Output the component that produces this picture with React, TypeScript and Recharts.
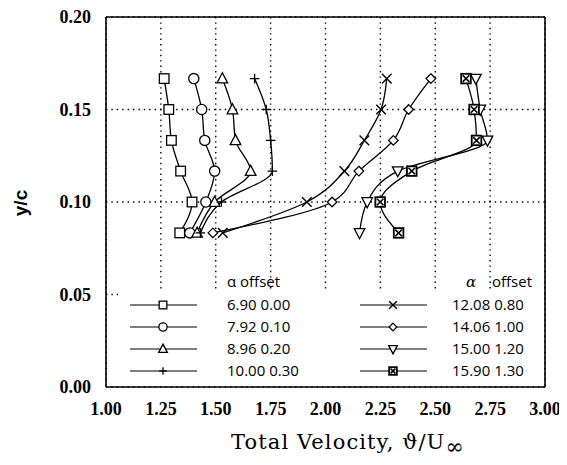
import React from 'react'
import { LineChart, Line, XAxis, YAxis, CartesianGrid, ReferenceLine } from 'recharts'

// y/c stations (same for every run)
const yc = [0.0833, 0.1, 0.1167, 0.1333, 0.15, 0.1667]

// total velocity at each station, one list per angle of attack
const v690 = [1.336, 1.392, 1.34, 1.298, 1.286, 1.265]
const v792 = [1.382, 1.455, 1.495, 1.45, 1.436, 1.4]
const v896 = [1.415, 1.495, 1.659, 1.59, 1.576, 1.53]
const v1000 = [1.43, 1.526, 1.758, 1.75, 1.73, 1.677]
const v1208 = [1.532, 1.915, 2.086, 2.177, 2.253, 2.279]
const v1406 = [1.487, 2.03, 2.152, 2.309, 2.379, 2.48]
const v1500 = [2.155, 2.19, 2.329, 2.738, 2.705, 2.685]
const v1590 = [2.333, 2.249, 2.393, 2.688, 2.677, 2.64]

const alphas = ['6.90', '7.92', '8.96', '10.00', '12.08', '14.06', '15.00', '15.90']
const offsets = ['0.00', '0.10', '0.20', '0.30', '0.80', '1.00', '1.20', '1.30']
const shapes = ['square', 'circle', 'triUp', 'plus', 'cross', 'diamond', 'triDown', 'boxX']
const seriesVals = [v690, v792, v896, v1000, v1208, v1406, v1500, v1590]

const xTicks = [1, 1.25, 1.5, 1.75, 2, 2.25, 2.5, 2.75, 3]
const yTicks = [0, 0.05, 0.1, 0.15, 0.2]

const data = yc.map((y, i) => {
  const row: Record<string, number> = { y }
  seriesVals.forEach((s, k) => { row['s' + k] = s[i] })
  return row
})

function Marker({ shape, cx, cy, s = 1 }: { shape: string; cx: number; cy: number; s?: number }) {
  const r = 4.8 * s
  const p = { stroke: '#000', strokeWidth: 1.3, fill: '#fff' }
  switch (shape) {
    case 'square':
      return <rect x={cx - r} y={cy - r} width={2 * r} height={2 * r} {...p} />
    case 'circle':
      return <circle cx={cx} cy={cy} r={r + 0.3} {...p} />
    case 'triUp':
      return <polygon points={`${cx},${cy - r - 1} ${cx + r + 0.5},${cy + r - 0.5} ${cx - r - 0.5},${cy + r - 0.5}`} {...p} />
    case 'triDown':
      return <polygon points={`${cx},${cy + r + 1} ${cx + r + 0.5},${cy - r + 0.5} ${cx - r - 0.5},${cy - r + 0.5}`} {...p} />
    case 'diamond':
      return <polygon points={`${cx},${cy - r} ${cx + r},${cy} ${cx},${cy + r} ${cx - r},${cy}`} {...p} />
    case 'plus':
      return (
        <g stroke="#000" strokeWidth={1.3}>
          <line x1={cx - r} y1={cy} x2={cx + r} y2={cy} />
          <line x1={cx} y1={cy - r} x2={cx} y2={cy + r} />
        </g>
      )
    case 'cross':
      return (
        <g stroke="#000" strokeWidth={1.4}>
          <line x1={cx - r} y1={cy - r} x2={cx + r} y2={cy + r} />
          <line x1={cx - r} y1={cy + r} x2={cx + r} y2={cy - r} />
        </g>
      )
    default:
      return (
        <g>
          <rect x={cx - r} y={cy - r} width={2 * r} height={2 * r} stroke="#000" strokeWidth={1.8} fill="#fff" />
          <line x1={cx - r + 1.5} y1={cy - r + 1.5} x2={cx + r - 1.5} y2={cy + r - 1.5} stroke="#000" strokeWidth={1.6} />
          <line x1={cx - r + 1.5} y1={cy + r - 1.5} x2={cx + r - 1.5} y2={cy - r + 1.5} stroke="#000" strokeWidth={1.6} />
        </g>
      )
  }
}

const tickFont = { fill: '#000', fontSize: 18, fontFamily: 'Liberation Serif', fontWeight: 600 }
const legendFont = { fontFamily: 'Open Sans', fontSize: 15, fill: '#000' }
const legendRows = [305, 327, 349, 371]

export default function App() {
  return (
    <div style={{ position: 'relative', width: 567, height: 465, margin: '-8px 0 0 -8px', background: '#fff' }}>
      <LineChart width={567} height={465} data={data} layout="vertical" margin={{ top: 17, right: 22, left: 0, bottom: 0 }}>
        <CartesianGrid stroke="#000" strokeWidth={1.4} strokeDasharray="1.4 4" />
        <XAxis
          type="number"
          domain={[1, 3]}
          ticks={xTicks}
          tickFormatter={v => Number(v).toFixed(2)}
          tick={tickFont}
          tickLine={false}
          tickMargin={9}
          height={78}
          stroke="#000"
          strokeWidth={1.6}
          label={{
            content: () => (
              <text x={231} y={449} fontFamily="DejaVu Serif" fontSize={21} letterSpacing={1.1} fill="#000">
                Total Velocity, ϑ/U<tspan dy={5} fontSize={22}>∞</tspan>
              </text>
            ),
          }}
        />
        <YAxis
          type="number"
          dataKey="y"
          domain={[0, 0.2]}
          ticks={yTicks}
          reversed
          tickFormatter={v => Number(v).toFixed(2)}
          tick={tickFont}
          tickLine={false}
          tickMargin={9}
          width={106}
          stroke="#000"
          strokeWidth={1.6}
          label={{
            content: () => (
              <text x={27} y={203} transform="rotate(-90 27 203)" textAnchor="middle" fontFamily="Liberation Sans" fontWeight="bold" fontSize={19} fill="#000">
                y/c
              </text>
            ),
          }}
        />
        <ReferenceLine y={0.2} stroke="#000" strokeWidth={1.6} />
        <ReferenceLine x={3} stroke="#000" strokeWidth={1.6} />
        {shapes.map((sh, k) => (
          <Line
            key={sh}
            dataKey={'s' + k}
            type="monotone"
            stroke="#000"
            strokeWidth={1.3}
            isAnimationActive={false}
            dot={(props: any) => <Marker key={`${sh}-${props.index}`} shape={sh} cx={props.cx} cy={props.cy} />}
            activeDot={false}
          />
        ))}
      </LineChart>
      <svg width={567} height={465} style={{ position: 'absolute', left: 0, top: 0, pointerEvents: 'none' }}>
        <rect x={118} y={291} width={426} height={95} fill="#fff" />
        <text x={227} y={287} {...legendFont}>α offset</text>
        <text x={466} y={287} {...legendFont} fontFamily="DejaVu Serif" fontStyle="italic">α</text>
        <text x={492} y={287} {...legendFont}>offset</text>
        {shapes.map((sh, k) => {
          const col = k < 4 ? 0 : 1
          const y = legendRows[k % 4]
          const x0 = col === 0 ? 130 : 360
          const tx = col === 0 ? 227 : 452
          return (
            <g key={sh}>
              <line x1={x0} y1={y} x2={x0 + 67} y2={y} stroke="#000" strokeWidth={1.2} />
              <Marker shape={sh} cx={x0 + 33} cy={y} s={0.8} />
              <text x={tx} y={y + 5} {...legendFont}>{alphas[k] + ' ' + offsets[k]}</text>
            </g>
          )
        })}
      </svg>
    </div>
  )
}
